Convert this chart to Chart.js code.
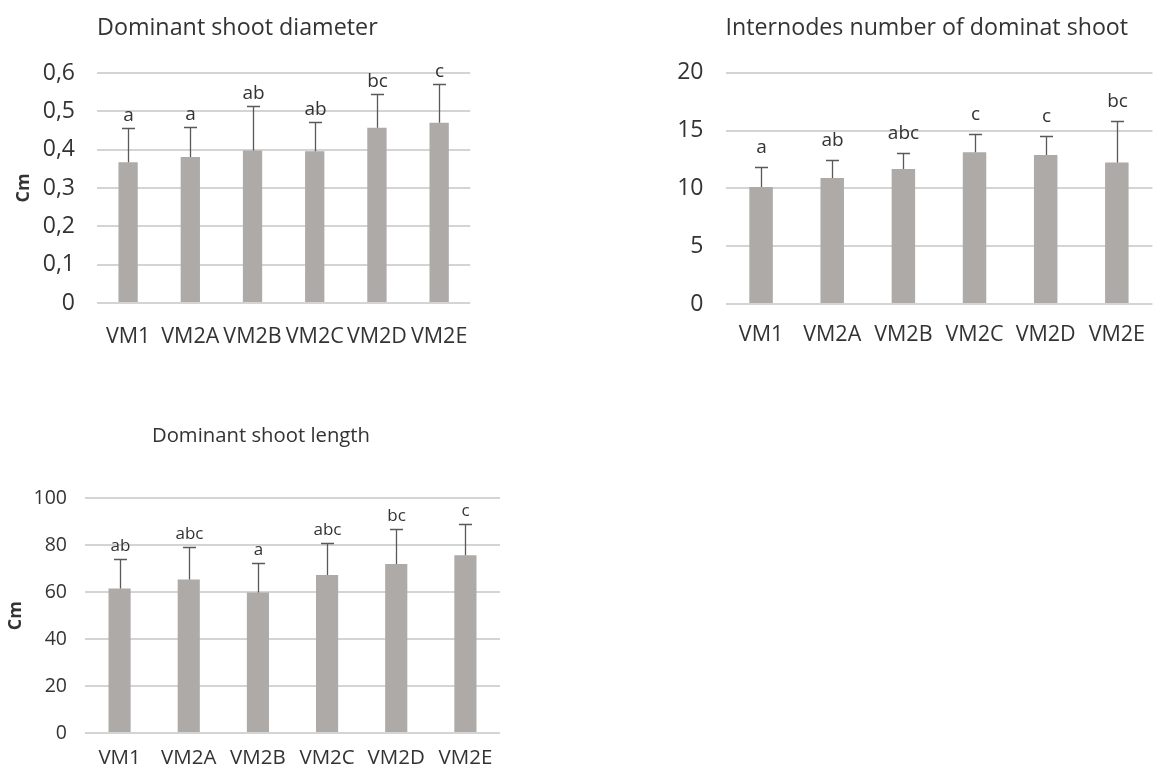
<!DOCTYPE html>
<html>
<head>
<meta charset="utf-8">
<script src="https://cdn.jsdelivr.net/npm/chart.js@4.4.0/dist/chart.umd.min.js"></script>
<style>
  html, body { margin: 0; padding: 0; background: #fff; overflow: hidden; width: 1154px; height: 769px; }
  .box { position: absolute; }
</style>
</head>
<body>
<div class="box" style="left:0;top:0;width:490px;height:370px"><canvas id="diamChart"></canvas></div>
<div class="box" style="left:620px;top:0;width:544px;height:370px"><canvas id="nodeChart"></canvas></div>
<div class="box" style="left:0;top:410px;width:522px;height:359px"><canvas id="lenChart"></canvas></div>
<script>
// treatments
const labels = ['VM1', 'VM2A', 'VM2B', 'VM2C', 'VM2D', 'VM2E'];

// dominant shoot diameter (cm)
const diamMean = [0.367, 0.381, 0.398, 0.396, 0.457, 0.470];
const diamErr = [0.090, 0.077, 0.115, 0.076, 0.088, 0.102];
const diamLetters = ['a', 'a', 'ab', 'ab', 'bc', 'c'];
const diamTicks = ['0', '0,1', '0,2', '0,3', '0,4', '0,5', '0,6'];

// internodes number
const nodeMean = [10.13, 10.9, 11.69, 13.13, 12.9, 12.24];
const nodeErr = [1.73, 1.6, 1.38, 1.62, 1.65, 3.63];
const nodeLetters = ['a', 'ab', 'abc', 'c', 'c', 'bc'];
const nodeTicks = ['0', '5', '10', '15', '20'];

// dominant shoot length (cm)
const lenMean = [61.6, 65.4, 59.9, 67.3, 72.0, 75.8];
const lenErr = [12.5, 14.0, 12.4, 13.5, 15.1, 13.3];
const lenLetters = ['ab', 'abc', 'a', 'abc', 'bc', 'c'];
const lenTicks = ['0', '20', '40', '60', '80', '100'];

const FONT = "'Open Sans', sans-serif";
const TXT = '#333333';

// draws the + error bar and the significance letter above each bar
const errorBars = {
  id: 'errorBars',
  afterDatasetsDraw(chart, args, opts) {
    const ctx = chart.ctx;
    const y = chart.scales.y;
    const meta = chart.getDatasetMeta(0);
    ctx.save();
    meta.data.forEach((bar, i) => {
      const x = Math.round(bar.x) + 0.5;
      const top = Math.round(y.getPixelForValue(opts.mean[i] + opts.err[i])) + 0.5;
      ctx.strokeStyle = '#595959';
      ctx.lineWidth = 1.3;
      ctx.beginPath();
      ctx.moveTo(x, bar.y);
      ctx.lineTo(x, top);
      ctx.moveTo(x - 6.5, top);
      ctx.lineTo(x + 6.5, top);
      ctx.stroke();
      ctx.fillStyle = TXT;
      ctx.font = opts.size + 'px ' + FONT;
      ctx.textAlign = 'center';
      ctx.textBaseline = 'middle';
      ctx.fillText(opts.letters[i], x, top - opts.gap);
    });
    ctx.restore();
  }
};

function makeChart(id, c) {
  const scales = {
    x: {
      grid: { display: false, drawTicks: false },
      border: { display: false },
      ticks: { color: TXT, font: { family: FONT, size: c.xfs }, padding: c.xPad, maxRotation: 0, autoSkip: false },
      afterFit: s => { s.height = c.xH; }
    },
    y: {
      min: 0, max: c.max,
      ticks: { stepSize: c.step, color: TXT, font: { family: FONT, size: c.yfs }, padding: c.yPad,
               callback: (v, i) => c.ticks[i] },
      grid: { color: '#d4d4d4', lineWidth: 2, drawTicks: false },
      border: { display: false },
      title: { display: !!c.yTitle, text: c.yTitle, color: TXT, font: { family: FONT, size: 18, weight: 'bold' },
               padding: { top: c.yTitlePad, bottom: 0 } },
      afterFit: s => { s.width = c.yW; }
    }
  };
  if (c.rightPad) {
    // empty spacer axis so the centred title matches the original
    scales.spacer = {
      position: 'right', display: true,
      grid: { display: false }, border: { display: false }, ticks: { display: false },
      afterFit: s => { s.width = c.rightPad; }
    };
  }
  return new Chart(document.getElementById(id), {
    type: 'bar',
    data: {
      labels: labels,
      datasets: [{
        data: c.mean,
        backgroundColor: '#adaaa8',
        borderWidth: 0,
        categoryPercentage: 1,
        barPercentage: c.barPct
      }]
    },
    options: {
      responsive: true,
      maintainAspectRatio: false,
      animation: false,
      layout: { padding: 0 },
      plugins: {
        legend: { display: false },
        tooltip: { enabled: false },
        title: {
          display: true, text: c.title, color: TXT,
          font: { family: FONT, size: c.titleSize, weight: 'normal' },
          align: c.titleAlign, fullSize: c.titleFull,
          padding: { top: c.tTop, bottom: c.tBottom }
        },
        errorBars: { mean: c.mean, err: c.err, letters: c.letters, size: c.letterSize, gap: c.gap }
      },
      scales: scales
    },
    plugins: [errorBars]
  });
}

makeChart('diamChart', {
  title: 'Dominant shoot diameter', titleSize: 23.3, titleAlign: 'start', titleFull: false, tTop: 14, tBottom: 31,
  mean: diamMean, err: diamErr, letters: diamLetters, ticks: diamTicks, max: 0.6, step: 0.1,
  xfs: 21.5, yfs: 23, xPad: 21, xH: 67, yPad: 22, yW: 97, yTitle: 'Cm', yTitlePad: 13,
  barPct: 0.31, letterSize: 19, gap: 13
});

makeChart('nodeChart', {
  title: 'Internodes number of dominat shoot', titleSize: 23.2, titleAlign: 'start', titleFull: false, tTop: 14, tBottom: 31,
  mean: nodeMean, err: nodeErr, letters: nodeLetters, ticks: nodeTicks, max: 20, step: 5,
  xfs: 21.5, yfs: 23, xPad: 18, xH: 66, yPad: 22, yW: 105.5, yTitle: '', yTitlePad: 0,
  barPct: 0.33, letterSize: 19, gap: 20
});

makeChart('lenChart', {
  title: 'Dominant shoot length', titleSize: 20.3, titleAlign: 'center', titleFull: true, tTop: 14, tBottom: 50,
  mean: lenMean, err: lenErr, letters: lenLetters, ticks: lenTicks, max: 100, step: 20,
  xfs: 20.5, yfs: 19.5, xPad: 13, xH: 36, yPad: 18, yW: 85, yTitle: 'Cm', yTitlePad: 5,
  barPct: 0.32, letterSize: 17, gap: 13, rightPad: 22
});
</script>
</body>
</html>
